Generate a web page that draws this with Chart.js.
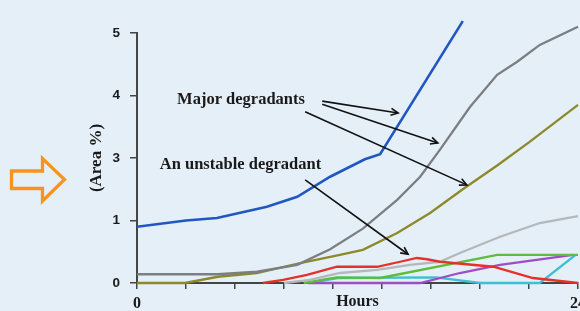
<!DOCTYPE html>
<html>
<head>
<meta charset="utf-8">
<script src="https://cdn.jsdelivr.net/npm/chart.js@4.4.1/dist/chart.umd.min.js"></script>
<style>
  html, body { margin: 0; padding: 0; overflow: hidden; background: #e5eff8; }
  #wrap { position: relative; width: 600px; height: 311px; }
  canvas { display: block; }
</style>
</head>
<body>
<div id="wrap"><canvas id="c" width="600" height="311"></canvas></div>
<script>
// ---------- data (x in hours, y in plot units of the Area % axis) ----------
const xTickLabels = ['0', '', '', '', '', '', '', '', '', '24'];
const yTickLabels = ['0', '1', '3', '4', '5'];

const blueHours   = [0, 2.67, 4.35, 7.07, 8.72, 10.51, 12.4, 13.23, 17.73];
const blueArea    = [0.9, 1.0, 1.04, 1.22, 1.38, 1.70, 1.98, 2.06, 4.19];

const greyHours   = [0, 4.4, 6.53, 8.72, 10.51, 12.29, 14.16, 15.41, 16.48, 18.13, 19.6, 20.69, 21.92, 24];
const greyArea    = [0.14, 0.14, 0.18, 0.29, 0.54, 0.87, 1.33, 1.70, 2.13, 2.82, 3.33, 3.54, 3.81, 4.10];

const oliveHours  = [0, 2.61, 4.4, 6.53, 8.88, 11.04, 12.29, 14.16, 15.95, 17.73, 19.6, 21.33, 24];
const oliveArea   = [0, 0, 0.1, 0.16, 0.32, 0.45, 0.53, 0.8, 1.12, 1.5, 1.88, 2.25, 2.85];

const silverHours = [8.0, 9.41, 11.04, 13.07, 14.85, 16.48, 17.57, 19.76, 21.92, 24];
const silverArea  = [0, 0.05, 0.16, 0.21, 0.29, 0.34, 0.48, 0.74, 0.96, 1.07];

const redHours    = [6.85, 7.95, 9.25, 10.88, 13.07, 14.32, 15.23, 15.79, 16.48, 19.39, 21.55, 24];
const redArea     = [0, 0.05, 0.13, 0.26, 0.26, 0.34, 0.40, 0.38, 0.34, 0.26, 0.08, 0];

const greenHours  = [9.07, 10.88, 13.23, 19.6, 24];
const greenArea   = [0, 0.09, 0.08, 0.45, 0.45];

const cyanHours   = [9.33, 10.93, 16.27, 18.67, 21.92, 23.87];
const cyanArea    = [0, 0.08, 0.09, 0, 0, 0.45];

const purpleHours = [9.33, 15.41, 17.57, 19.76, 23.73];
const purpleArea  = [0, 0, 0.16, 0.29, 0.45];

// annotations (data coordinates)
const labelMajor    = { text: 'Major degradants', x: 5.66, y: 2.93 };
const labelUnstable = { text: 'An unstable degradant', x: 5.63, y: 1.89 };
const arrows = [
  { from: [10.08, 2.91], to: [14.21, 2.72] },
  { from: [10.08, 2.86], to: [16.37, 2.24] },
  { from: [9.15, 2.74],  to: [17.95, 1.57] },
  { from: [9.15, 1.65],  to: [14.75, 0.46] }
];

// ---------- build ----------
const pts = (xs, ys) => xs.map((x, i) => ({ x: x, y: ys[i] }));
const ds = (label, xs, ys, color, w) => ({
  label, data: pts(xs, ys), borderColor: color, backgroundColor: color,
  borderWidth: w, pointRadius: 0, tension: 0, fill: false, clip: false
});

const annot = {
  id: 'annot',
  beforeDraw(chart) {
    const ctx = chart.ctx;
    ctx.save();
    // orange hollow arrow decoration at the left
    ctx.strokeStyle = '#f7941d';
    ctx.lineWidth = 3.3;
    ctx.lineJoin = 'miter';
    ctx.beginPath();
    ctx.moveTo(11.5, 171); ctx.lineTo(42.5, 171); ctx.lineTo(42.5, 158.5);
    ctx.lineTo(64.5, 179.5); ctx.lineTo(42.5, 201); ctx.lineTo(42.5, 188.5);
    ctx.lineTo(11.5, 188.5); ctx.closePath();
    ctx.stroke();
    ctx.restore();
  },
  afterDatasetsDraw(chart) {
    const ctx = chart.ctx;
    const xs = chart.scales.x, ys = chart.scales.y;
    ctx.save();
    ctx.fillStyle = '#1a1a1a';
    ctx.font = 'bold 16.5px "Liberation Serif", "Times New Roman", serif';
    ctx.textAlign = 'center';
    ctx.textBaseline = 'middle';
    [labelMajor, labelUnstable].forEach(l => {
      ctx.fillText(l.text, xs.getPixelForValue(l.x), ys.getPixelForValue(l.y));
    });
    ctx.strokeStyle = '#111';
    ctx.lineWidth = 1.6;
    arrows.forEach(a => {
      const x1 = xs.getPixelForValue(a.from[0]), y1 = ys.getPixelForValue(a.from[1]);
      const x2 = xs.getPixelForValue(a.to[0]), y2 = ys.getPixelForValue(a.to[1]);
      ctx.beginPath(); ctx.moveTo(x1, y1); ctx.lineTo(x2, y2); ctx.stroke();
      const ang = Math.atan2(y2 - y1, x2 - x1), L = 8, sp = 0.45;
      ctx.beginPath();
      ctx.moveTo(x2 - L * Math.cos(ang - sp), y2 - L * Math.sin(ang - sp));
      ctx.lineTo(x2, y2);
      ctx.lineTo(x2 - L * Math.cos(ang + sp), y2 - L * Math.sin(ang + sp));
      ctx.stroke();
    });
    ctx.restore();
  }
};

new Chart(document.getElementById('c'), {
  type: 'line',
  data: {
    datasets: [
      ds('Blue', blueHours, blueArea, '#2157c1', 2.6),
      ds('Red', redHours, redArea, '#e8302a', 2.3),
      ds('Grey', greyHours, greyArea, '#7b7e82', 2.3),
      ds('Olive', oliveHours, oliveArea, '#8d892b', 2.3),
      ds('Silver', silverHours, silverArea, '#b5b8bb', 2.3),
      ds('Green', greenHours, greenArea, '#5dbd3c', 2.3),
      ds('Purple', purpleHours, purpleArea, '#9b4fc2', 2.3),
      ds('Cyan', cyanHours, cyanArea, '#3fbfd2', 2.3)
    ]
  },
  options: {
    responsive: false,
    animation: false,
    devicePixelRatio: 1,
    layout: { padding: { top: 33, right: 22, left: 0, bottom: 0 } },
    plugins: { legend: { display: false }, tooltip: { enabled: false } },
    scales: {
      x: {
        type: 'linear', min: 0, max: 24,
        afterBuildTicks: s => { s.ticks = xTickLabels.map((_, i) => ({ value: i * 24 / (xTickLabels.length - 1) })); },
        afterFit: s => { s.height = 28; },
        ticks: {
          autoSkip: false, maxRotation: 0, padding: 6.5, color: '#1a1a1a',
          font: { family: '"Liberation Serif", serif', size: 16, weight: 'bold', lineHeight: 1 },
          callback: (v, i) => xTickLabels[i]
        },
        grid: { drawOnChartArea: false, drawTicks: true, tickLength: 6, color: '#444', lineWidth: 1.5 },
        border: { display: true, color: '#444', width: 2 },
        title: {
          display: true, text: 'Hours', color: '#1a1a1a',
          font: { family: '"Liberation Serif", serif', size: 16, weight: 'bold', lineHeight: 1 },
          padding: { top: 0, bottom: 1.5 }
        }
      },
      y: {
        type: 'linear', min: 0, max: 4,
        afterBuildTicks: s => { s.ticks = yTickLabels.map((_, i) => ({ value: i })); },
        afterFit: s => { s.width = 137; },
        ticks: {
          padding: 10, color: '#1a1a1a',
          font: { family: '"Liberation Sans", Arial, sans-serif', size: 13.5, weight: 'bold' },
          callback: (v, i) => yTickLabels[i]
        },
        grid: { drawOnChartArea: false, drawTicks: true, tickLength: 7, color: '#444', lineWidth: 1.5 },
        border: { display: true, color: '#444', width: 2 },
        title: {
          display: true, text: '(Area %)', color: '#1a1a1a',
          font: { family: '"Liberation Serif", serif', size: 17, weight: 'bold', lineHeight: 1 },
          padding: { top: 88.5, bottom: 0 }
        }
      }
    }
  },
  plugins: [annot]
});
</script>
</body>
</html>
